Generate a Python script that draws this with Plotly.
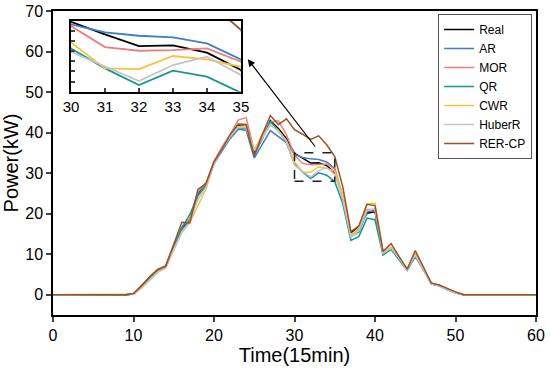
import plotly.graph_objects as go

time = list(range(0, 61))
zeros10 = [0.0] * 10

real = zeros10 + [0.2, 2.0, 4.0, 6.0, 7.0, 12.0, 16.5, 18.5, 25.0, 27.0, 32.5, 36.0, 39.0, 41.7, 41.5, 35.0,
                  38.5, 43.0, 41.0, 38.5, 34.9, 33.65, 32.5, 32.57, 31.85, 30.14, 24.0, 15.2, 16.8, 20.1,
                  20.5, 10.3, 11.5, 9.0, 6.2, 10.0, 6.5, 2.8, 2.3, 1.3, 0.6] + zeros10
ar = zeros10 + [0.2, 1.8, 3.8, 5.8, 6.8, 11.5, 16.0, 18.3, 24.5, 27.0, 32.3, 35.5, 38.5, 40.8, 40.6, 33.7,
                37.0, 40.5, 39.0, 37.5, 34.64, 33.85, 33.52, 33.36, 32.77, 31.19, 23.5, 14.3, 15.5, 20.5,
                20.8, 10.0, 11.3, 8.8, 6.1, 9.8, 6.4, 2.6, 2.2, 1.2, 0.5] + zeros10
mor = zeros10 + [0.3, 2.2, 4.3, 6.3, 7.2, 12.3, 16.8, 18.8, 25.3, 27.6, 32.9, 36.5, 39.5, 43.1, 43.7, 35.5,
                 39.5, 42.6, 42.9, 39.5, 34.47, 32.4, 32.04, 32.1, 32.27, 30.96, 24.5, 14.8, 16.2, 21.0,
                 21.0, 10.2, 11.6, 9.0, 6.2, 10.1, 6.6, 2.8, 2.3, 1.3, 0.6] + zeros10
qr = zeros10 + [0.2, 2.0, 4.0, 6.0, 7.0, 12.0, 16.5, 19.8, 24.5, 27.0, 32.5, 36.0, 39.0, 41.2, 41.0, 34.5,
                38.5, 42.7, 40.6, 37.5, 32.27, 30.3, 28.66, 30.07, 29.48, 27.9, 22.5, 13.4, 14.4, 18.9,
                18.5, 9.8, 11.2, 8.7, 6.0, 9.4, 6.2, 2.6, 2.2, 1.2, 0.5] + zeros10
cwr = zeros10 + [0.1, 1.6, 3.5, 5.5, 6.6, 11.0, 15.5, 17.8, 22.0, 26.0, 32.5, 36.0, 39.0, 41.5, 41.5, 35.9,
                 39.0, 41.8, 40.5, 38.0, 32.86, 30.3, 30.23, 31.52, 31.19, 30.46, 24.5, 14.8, 16.5, 22.4,
                 22.6, 10.5, 11.8, 9.1, 6.2, 10.0, 6.5, 2.8, 2.3, 1.3, 0.6] + zeros10
huber = zeros10 + [0.1, 1.7, 3.6, 5.6, 6.7, 11.2, 15.2, 18.0, 23.5, 26.5, 32.3, 36.0, 39.0, 41.3, 41.2, 35.5,
                   38.5, 42.0, 40.2, 37.8, 31.94, 30.46, 29.05, 30.63, 31.45, 29.64, 23.5, 14.2, 15.8, 20.8,
                   21.2, 10.2, 11.5, 9.0, 6.1, 9.8, 6.4, 2.7, 2.2, 1.2, 0.5] + zeros10
rercp = zeros10 + [0.3, 2.2, 4.5, 6.2, 7.0, 12.5, 17.9, 17.7, 26.0, 27.4, 32.8, 36.0, 39.5, 42.1, 42.0, 34.2,
                   39.5, 44.2, 42.0, 43.4, 40.7, 39.6, 38.3, 39.2, 37.0, 34.1, 26.6, 15.6, 17.0, 22.3,
                   22.0, 10.7, 12.6, 9.4, 6.3, 10.9, 6.8, 2.9, 2.4, 1.5, 0.7] + zeros10

names = ["Real", "AR", "MOR", "QR", "CWR", "HuberR", "RER-CP"]
series = [real, ar, mor, qr, cwr, huber, rercp]
colors = ["#000000", "#3d7fc4", "#ee7f7f", "#14979a", "#f4c53c", "#c4c4c4", "#9c5224"]

x_ticks = [0, 10, 20, 30, 40, 50, 60]
y_ticks = [0, 10, 20, 30, 40, 50, 60, 70]
inset_x_ticks = [30, 31, 32, 33, 34, 35]
inset_y_ticks = [28, 29, 30, 31, 32, 33, 34, 35]

FONT = "Liberation Sans, Arial, sans-serif"

fig = go.Figure()
for name, ys, c in zip(names, series, colors):
    fig.add_trace(go.Scatter(x=time, y=ys, mode="lines", name=name,
                             line=dict(color=c, width=1.5), xaxis="x", yaxis="y"))
for name, ys, c in zip(names, series, colors):
    fig.add_trace(go.Scatter(x=time, y=ys, mode="lines", name=name, showlegend=False,
                             line=dict(color=c, width=1.8), xaxis="x2", yaxis="y2"))

fig.add_shape(type="rect", xref="x", yref="y", x0=30, x1=35, y0=28, y1=35,
              line=dict(color="#222222", width=1.5, dash="dash"))

fig.add_annotation(x=24.2, y=58.1, ax=32.7, ay=36.2, xref="x", yref="y", axref="x", ayref="y",
                   text="", showarrow=True, arrowhead=2, arrowsize=1.2, arrowwidth=1.2,
                   arrowcolor="#000000")

fig.update_layout(
    width=550, height=375,
    margin=dict(l=53, r=14, t=11, b=60, autoexpand=False),
    paper_bgcolor="white", plot_bgcolor="white",
    font=dict(family=FONT, color="#000000", size=16),
    showlegend=True,
    legend=dict(x=0.992, y=0.99, xanchor="right", yanchor="top",
                bordercolor="#555555", borderwidth=1, bgcolor="rgba(255,255,255,0)",
                font=dict(size=12, family=FONT), tracegroupgap=0, itemwidth=30),
    xaxis=dict(range=[0, 60], tickvals=x_ticks, ticks="outside", ticklen=5, tickwidth=1.5,
               showline=True, linecolor="#000000", linewidth=1.5, mirror=True,
               showgrid=False, zeroline=False, automargin=False,
               title=dict(text="Time(15min)", font=dict(size=20), standoff=0),
               tickfont=dict(size=16)),
    yaxis=dict(range=[-5, 70], tickvals=y_ticks, ticks="outside", ticklen=5, tickwidth=1.5,
               showline=True, linecolor="#000000", linewidth=1.5, mirror=True,
               showgrid=False, zeroline=False, automargin=False,
               title=dict(text="Power(kW)", font=dict(size=20), standoff=6),
               tickfont=dict(size=16)),
    xaxis2=dict(domain=[0.0373, 0.389], anchor="y2", range=[30, 35], tickvals=inset_x_ticks,
                ticks="inside", ticklen=4, tickwidth=1.5, automargin=False,
                showline=True, linecolor="#000000", linewidth=2, mirror=True,
                showgrid=False, zeroline=False, tickfont=dict(size=15)),
    yaxis2=dict(domain=[0.7345, 0.968], anchor="x2", range=[28, 35], tickvals=inset_y_ticks,
                ticks="inside", ticklen=4, tickwidth=1.5, showticklabels=False, automargin=False,
                showline=True, linecolor="#000000", linewidth=2, mirror=True,
                showgrid=False, zeroline=False),
)

fig.write_html("out.html", config={"displayModeBar": False},
               post_script="document.body.style.margin='0';document.body.style.overflow='hidden';")
